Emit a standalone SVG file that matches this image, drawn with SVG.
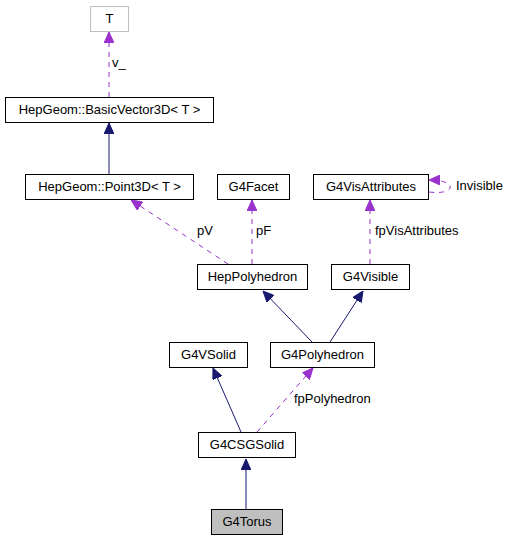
<svg xmlns="http://www.w3.org/2000/svg" width="511" height="541" viewBox="0 0 511 541">
<style>
text{font-family:"Liberation Sans",Arial,sans-serif;font-size:13px;fill:#000}
.n rect{fill:#fff;stroke:#000;stroke-width:1}
.c{text-anchor:middle}
.inh{stroke:#191970;fill:none;stroke-width:1}
.use{stroke:#9a32cd;fill:none;stroke-width:1;stroke-dasharray:5,5}
</style>
<defs>
<marker id="ah" viewBox="0 0 11 10" refX="11" refY="5" markerWidth="11" markerHeight="10" markerUnits="userSpaceOnUse" orient="auto"><path d="M0,0L11,5L0,10z" fill="#191970" stroke="#191970"/></marker>
<marker id="ap" viewBox="0 0 11 10" refX="11" refY="5" markerWidth="11" markerHeight="10" markerUnits="userSpaceOnUse" orient="auto"><path d="M0,0L11,5L0,10z" fill="#9a32cd" stroke="#9a32cd"/></marker>
</defs>
<rect width="511" height="541" fill="#fff"/>
<g id="edges">
<path class="use" d="M109,97V32" marker-end="url(#ap)"/>
<text x="112" y="67">v_</text>
<path class="inh" d="M109,174V123" marker-end="url(#ah)"/>
<path class="use" d="M228,264L131,200" marker-end="url(#ap)"/>
<text x="197" y="235">pV</text>
<path class="use" d="M252,264V200" marker-end="url(#ap)"/>
<text x="256" y="235">pF</text>
<path class="use" d="M370,264V200" marker-end="url(#ap)"/>
<text x="375" y="235">fpVisAttributes</text>
<path class="use" d="M429,192C444,194 452,190 450,186C448,182 440,180 429,180" marker-end="url(#ap)"/>
<text x="456" y="190">Invisible</text>
<path class="inh" d="M312,342L263,291" marker-end="url(#ah)"/>
<path class="inh" d="M330,342L363,291" marker-end="url(#ah)"/>
<path class="inh" d="M241,432L213,368" marker-end="url(#ah)"/>
<path class="use" d="M257,432L313,368" marker-end="url(#ap)"/>
<text x="294" y="403">fpPolyhedron</text>
<path class="inh" d="M246,509V459" marker-end="url(#ah)"/>
</g>
<g id="T" class="n"><rect x="90.5" y="6.5" width="38" height="25" style="stroke:#bfbfbf"/><text class="c" x="109.5" y="23">T</text></g>
<g id="BasicVector3D" class="n"><rect x="5.5" y="97.5" width="208" height="25"/><text class="c" x="109.5" y="114">HepGeom::BasicVector3D&lt; T &gt;</text></g>
<g id="Point3D" class="n"><rect x="25.5" y="174.5" width="168" height="25"/><text class="c" x="109.5" y="191">HepGeom::Point3D&lt; T &gt;</text></g>
<g id="G4Facet" class="n"><rect x="217.5" y="174.5" width="72" height="25"/><text class="c" x="253.5" y="191">G4Facet</text></g>
<g id="G4VisAttributes" class="n"><rect x="313.5" y="174.5" width="115" height="25"/><text class="c" x="371" y="191">G4VisAttributes</text></g>
<g id="HepPolyhedron" class="n"><rect x="197.5" y="264.5" width="110" height="25"/><text class="c" x="252.5" y="281">HepPolyhedron</text></g>
<g id="G4Visible" class="n"><rect x="331.5" y="264.5" width="78" height="25"/><text class="c" x="370.5" y="281">G4Visible</text></g>
<g id="G4VSolid" class="n"><rect x="169.5" y="342.5" width="78" height="25"/><text class="c" x="208.5" y="359">G4VSolid</text></g>
<g id="G4Polyhedron" class="n"><rect x="270.5" y="342.5" width="104" height="25"/><text class="c" x="322.5" y="359">G4Polyhedron</text></g>
<g id="G4CSGSolid" class="n"><rect x="198.5" y="432.5" width="97" height="25"/><text class="c" x="247" y="449">G4CSGSolid</text></g>
<g id="G4Torus" class="n"><rect x="211.5" y="509.5" width="71" height="25" style="fill:#bfbfbf"/><text class="c" x="247" y="526">G4Torus</text></g>
</svg>
